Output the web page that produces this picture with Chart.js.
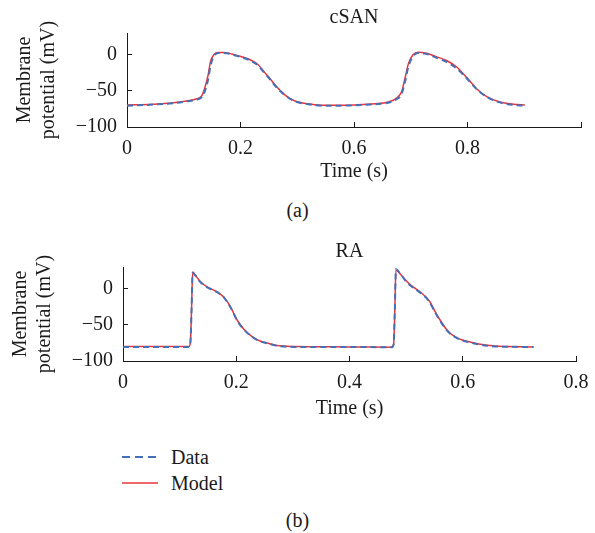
<!DOCTYPE html>
<html>
<head>
<meta charset="utf-8">
<script src="https://cdn.jsdelivr.net/npm/chart.js@4.4.1/dist/chart.umd.min.js"></script>
<style>
  body { margin: 0; background: #fff; width: 595px; height: 533px; position: relative; overflow: hidden;
         font-family: "Liberation Serif", serif; color: #1a1a1a; }
  canvas { position: absolute; left: 0; }
  #top { top: 0; }
  #bottom { top: 234px; }
  .tag { position: absolute; left: 0; width: 595px; text-align: center; font-size: 20px; line-height: 24px; }
  .key { position: absolute; left: 171px; font-size: 20px; line-height: 24px; }
  .swatch { position: absolute; left: 122px; }
</style>
</head>
<body>
<canvas id="top" width="595" height="195"></canvas>
<canvas id="bottom" width="595" height="195"></canvas>
<div class="tag" style="top:198px">(a)</div>
<div class="tag" style="top:508px">(b)</div>

<svg class="swatch" style="top:447px" width="36" height="20"><line x1="0" y1="10" x2="36" y2="10" stroke="#4470b8" stroke-width="2" stroke-dasharray="8 5"/></svg>
<div class="key" style="top:445px">Data</div>
<svg class="swatch" style="top:473px" width="36" height="20"><line x1="0" y1="10" x2="36" y2="10" stroke="#e8353b" stroke-width="1.5"/></svg>
<div class="key" style="top:471px">Model</div>

<script>
// tick positions and labels (the top panel's axis is labelled 0, 0.2, 0.6, 0.8 in the source)
const xTickValues = [0, 0.2, 0.4, 0.6, 0.8];
const xLabelsTop = ['0', '0.2', '0.6', '0.8', ''];
const xLabelsBottom = ['0', '0.2', '0.4', '0.6', '0.8'];
const yTickValues = [-100, -50, 0];

// cSAN panel
const timeSAN = [0, 0.046, 0.082, 0.105, 0.123, 0.132, 0.137, 0.143, 0.147, 0.153, 0.161, 0.170, 0.193, 0.217,
  0.231, 0.243, 0.252, 0.261, 0.278, 0.296, 0.319, 0.343, 0.372, 0.402, 0.437, 0.460, 0.475, 0.484, 0.490,
  0.496, 0.504, 0.513, 0.528, 0.546, 0.563, 0.581, 0.599, 0.616, 0.634, 0.657, 0.681, 0.701];
const modelSAN = [-69.5, -68.5, -66.5, -64, -61, -56.5, -46, -28, -10, 0, 3, 3, -1, -7,
  -14, -25, -33, -42, -55.5, -64, -68, -69.8, -70, -69.5, -68, -65.5, -60, -51, -32,
  -12, 0, 3.5, 2, -3, -8, -17, -32, -47, -58, -65.5, -68.5, -69.5];
const dataSAN = [-70.5, -69, -67, -64.5, -62, -58.5, -51, -34, -16, -2, 2.5, 2.5, -1.5, -8,
  -15, -26, -34, -43, -56, -64.5, -68.5, -70.5, -70.5, -70, -68.5, -66.5, -61.5, -54, -37,
  -16, -2, 2.5, 1, -4.5, -10, -19, -33, -47.5, -58.5, -66, -69.5, -70.5];

// RA panel
const timeRA = [0, 0.1165, 0.119, 0.121, 0.123, 0.128, 0.137, 0.152, 0.167, 0.178, 0.190, 0.202, 0.213,
  0.228, 0.243, 0.252, 0.272, 0.302, 0.400, 0.475, 0.478, 0.480, 0.482, 0.490, 0.499, 0.508, 0.525,
  0.540, 0.555, 0.573, 0.590, 0.614, 0.643, 0.678, 0.725];
const modelRA = [-80, -80, -74, -30, 23, 18.5, 9.3, 1, -4.7, -11.6, -25.5, -44, -55.6,
  -66.2, -72.7, -74.5, -78.7, -80, -80.5, -81, -76, -30, 26, 20, 12, 5, -4.7,
  -16, -37, -58, -68, -74, -78.3, -80, -80.5];
const dataRA = [-80.5, -80.5, -75, -32, 22, 18, 9, 0.5, -5, -12, -26, -44.5, -56,
  -66.5, -73, -75, -79, -80.5, -80.5, -81, -77, -32, 27, 20.5, 11, 4, -5.5,
  -17, -38, -58.5, -68.5, -74.5, -78.8, -80.3, -80.5];

const INK = '#1a1a1a';
const BLUE = '#4470b8';
const RED = '#e8353b';
const FONT = { family: '"Liberation Serif", serif', size: 20, weight: 'normal' };

const minus = v => String(v).replace('-', '\u2212');

function makePanel(id, title, times, data, model, xLabels, geo) {
  return new Chart(document.getElementById(id), {
    type: 'line',
    data: {
      datasets: [
        {
          label: 'Data',
          data: times.map((t, i) => ({ x: t, y: data[i] })),
          borderColor: BLUE, borderWidth: 2, borderDash: [6, 4],
          pointRadius: 0, cubicInterpolationMode: 'monotone', fill: false
        },
        {
          label: 'Model',
          data: times.map((t, i) => ({ x: t, y: model[i] })),
          borderColor: RED, borderWidth: 1.5,
          pointRadius: 0, cubicInterpolationMode: 'monotone', fill: false
        }
      ]
    },
    options: {
      responsive: false,
      animation: false,
      devicePixelRatio: 1,
      layout: { padding: { left: 0, right: geo.right, top: 0, bottom: geo.bottom } },
      plugins: {
        legend: { display: false },
        tooltip: { enabled: false },
        title: {
          display: true, text: title, fullSize: false, color: INK, font: FONT,
          padding: { top: 6, bottom: 3 }
        }
      },
      scales: {
        x: {
          type: 'linear', min: 0, max: 0.8,
          afterBuildTicks: s => { s.ticks = xTickValues.map(v => ({ value: v })); },
          afterFit: s => { s.height = geo.xh; s.paddingLeft = 0; s.paddingRight = 0; },
          ticks: { callback: (v, i) => xLabels[i], color: INK, font: FONT, padding: 15, maxRotation: 0, autoSkip: false },
          grid: { drawOnChartArea: false, tickLength: -5, color: INK },
          border: { color: INK, width: 1 },
          title: { display: true, text: 'Time (s)', color: INK, font: FONT, padding: 0 }
        },
        y: {
          min: -100, max: 30,
          afterBuildTicks: s => { s.ticks = yTickValues.map(v => ({ value: v })); },
          afterFit: s => { s.width = geo.yw; s.paddingTop = 0; s.paddingBottom = 0; },
          ticks: { callback: v => minus(v), color: INK, font: FONT, padding: 15 },
          grid: { drawOnChartArea: false, tickLength: -5, color: INK },
          border: { color: INK, width: 1 },
          title: {
            display: true, text: ['Membrane', 'potential (mV)'], color: INK, font: FONT,
            padding: { top: geo.ytp, bottom: 0 }
          }
        }
      }
    }
  });
}

makePanel('top', 'cSAN', timeSAN, dataSAN, modelSAN, xLabelsTop, { right: 14, bottom: 11, xh: 57, yw: 127, ytp: 13 });
makePanel('bottom', 'RA', timeRA, dataRA, modelRA, xLabelsBottom, { right: 19, bottom: 8, xh: 60, yw: 123, ytp: 9 });
</script>
</body>
</html>
